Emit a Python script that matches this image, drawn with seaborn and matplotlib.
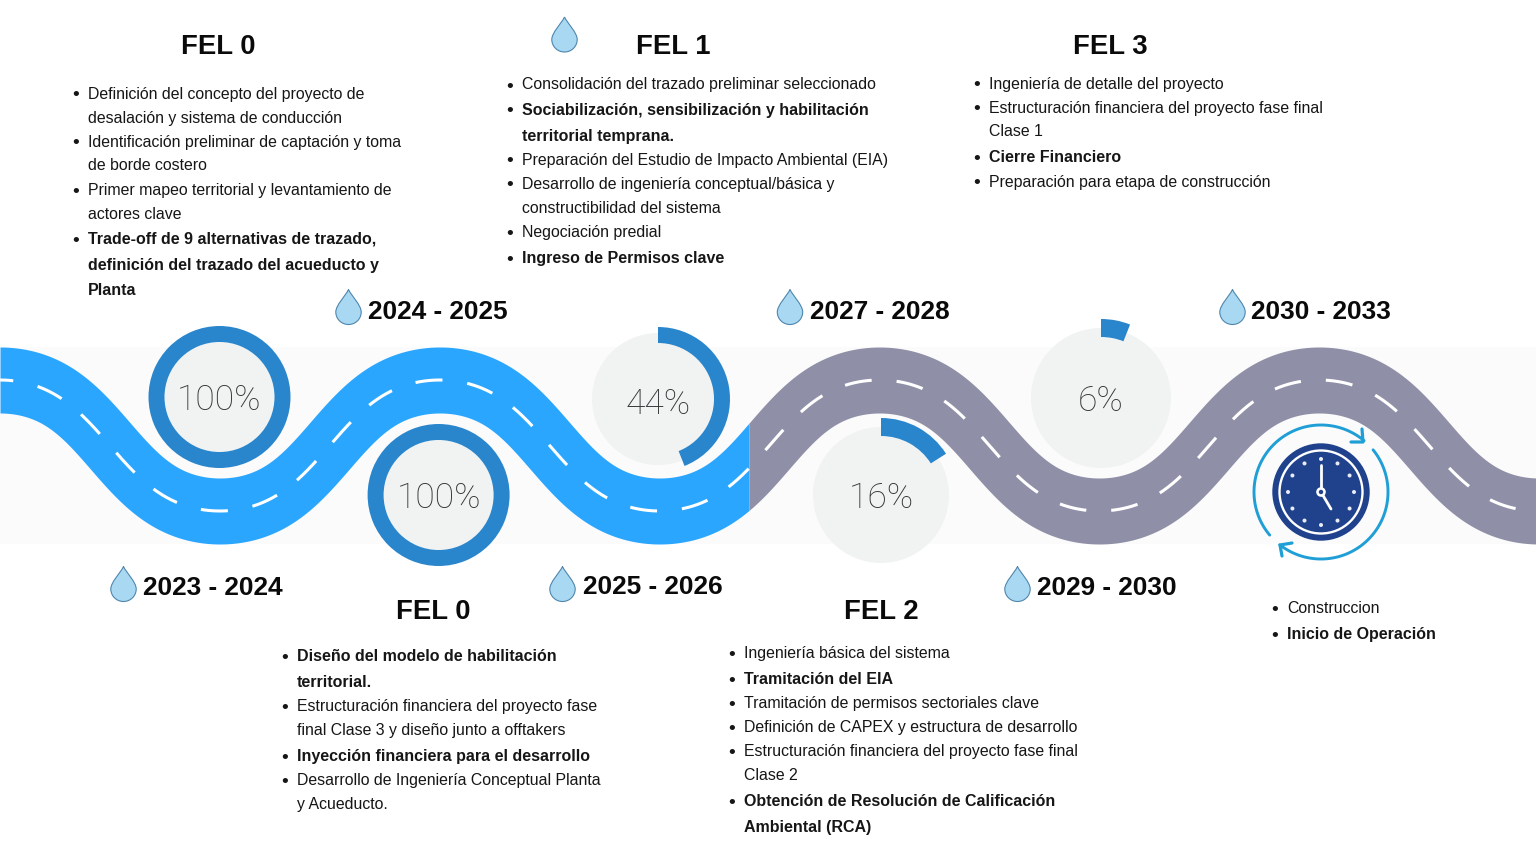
import numpy as np
import pandas as pd
import matplotlib
matplotlib.use("Agg")
import matplotlib.pyplot as plt
from matplotlib.patches import Circle, Wedge, PathPatch, Rectangle
from matplotlib.path import Path
import seaborn as sns

sns.set_theme(style="white")
plt.rcParams["font.family"] = ["Liberation Sans", "DejaVu Sans"]
plt.rcParams["lines.scale_dashes"] = False

# ---- data ----
progress_labels = ["100%", "100%", "44%", "16%", "6%"]
progress_values = [100, 100, 44, 16, 6]
year_labels = ["2023 - 2024", "2024 - 2025", "2025 - 2026", "2027 - 2028", "2029 - 2030", "2030 - 2033"]
phase_titles = ["FEL 0", "FEL 1", "FEL 3", "FEL 0", "FEL 2"]

fel0_top = ["Definición del concepto del proyecto de", "desalación y sistema de conducción",
            "Identificación preliminar de captación y toma", "de borde costero",
            "Primer mapeo territorial y levantamiento de", "actores clave",
            "Trade-off de 9 alternativas de trazado,", "definición del trazado del acueducto y", "Planta"]
fel1_top = ["Consolidación del trazado preliminar seleccionado",
            "Sociabilización, sensibilización y habilitación", "territorial temprana.",
            "Preparación del Estudio de Impacto Ambiental (EIA)",
            "Desarrollo de ingeniería conceptual/básica y", "constructibilidad del sistema",
            "Negociación predial", "Ingreso de Permisos clave"]
fel3_top = ["Ingeniería de detalle del proyecto", "Estructuración financiera del proyecto fase final",
            "Clase 1", "Cierre Financiero", "Preparación para etapa de construcción"]
fel0_bot = ["Diseño del modelo de habilitación", "territorial.",
            "Estructuración financiera del proyecto fase", "final Clase 3 y diseño junto a offtakers",
            "Inyección financiera para el desarrollo",
            "Desarrollo de Ingeniería Conceptual Planta", "y Acueducto."]
fel2_bot = ["Ingeniería básica del sistema", "Tramitación del EIA",
            "Tramitación de permisos sectoriales clave", "Definición de CAPEX y estructura de desarrollo",
            "Estructuración financiera del proyecto fase final", "Clase 2",
            "Obtención de Resolución de Calificación", "Ambiental (RCA)"]
build_bot = ["Construccion", "Inicio de Operación"]

# road crests
road_crest_x = [0, 439.7, 879.4, 1319.1]
road_center_top = 380.0
road_center_bottom = 511.0

# ---- layout ----
W, H = 1536, 863
fig = plt.figure(figsize=(W / 100, H / 100), dpi=100, facecolor="white")
ax = fig.add_axes([0, 0, 1, 1])
ax.set_xlim(0, W)
ax.set_ylim(H, 0)
ax.axis("off")

BLUE, GREY, RING, DISK = "#2ba6ff", "#8f90a8", "#2a86cc", "#f1f3f3"

ax.add_patch(Rectangle((0, 347), W, 197, fc="#fbfbfb", ec="none", zorder=0))

# road: steep flanks, rounded crests
period = road_crest_x[1] - road_crest_x[0]
amp = (road_center_bottom - road_center_top) / 2
mid = (road_center_bottom + road_center_top) / 2
t = np.linspace(-200, W + 200, 6000)
k = 2 * np.pi / period
sharp = 0.85
cy = mid - amp * np.tanh(sharp * np.cos(k * t)) / np.tanh(sharp)
dy = np.gradient(cy, t)
s = np.sqrt(1 + dy ** 2)
half = 33 - 5 * (1 - 1 / s ** 2)
ux, uy = t + half * dy / s, cy - half / s
lx, ly = t - half * dy / s, cy + half / s
xs = np.unique(np.append(np.linspace(0, W, 1537), 749.0))
upper = np.interp(xs, ux, uy)
lower = np.interp(xs, lx, ly)
m = xs <= 749
g = xs >= 749
ax.fill_between(xs[m], upper[m], lower[m], color=BLUE, lw=0, zorder=1)
ax.fill_between(xs[g], upper[g], lower[g], color=GREY, lw=0, zorder=1)

center = pd.DataFrame({"x": t, "y": cy})
center = center[(center.x >= 0) & (center.x <= W)]
sns.lineplot(data=center, x="x", y="y", ax=ax, color="white", lw=2.2, estimator=None, sort=False,
             linestyle=(10, (19.5, 18)), zorder=2, legend=False)
ax.set_xlim(0, W)
ax.set_ylim(H, 0)
ax.axis("off")

# progress dials
dial_x = [219.5, 438.6, 658, 881, 1101]
dial_y = [397, 495, 399, 495, 398]
dial_outer = [71, 71, 72, 77, 79]
dial_inner = [55, 55, 56, 59, 61]
disk_r = [55, 55, 66, 68, 70]
text_dy = [3, 3, 5, 3, 3]
for lab, v, x, y, ro, ri, dr, d in zip(progress_labels, progress_values, dial_x, dial_y, dial_outer, dial_inner, disk_r, text_dy):
    ax.add_patch(Circle((x, y), dr, fc=DISK, ec="none", zorder=3))
    ax.add_patch(Wedge((x, y), ro, -90, -90 + 3.6 * v, width=ro - ri, fc=RING, ec="none", zorder=4))
    ax.text(x, y + d, lab, ha="center", va="center", fontsize=25.5, color="#333536",
            family=["Roboto", "DejaVu Sans"], fontweight="light", zorder=5)

# droplets
drop_v = [(0, -17.5), (3, -11), (12.7, -2), (12.7, 5), (12.7, 12), (7, 17.5), (0, 17.5),
          (-7, 17.5), (-12.7, 12), (-12.7, 5), (-12.7, -2), (-3, -11), (0, -17.5)]
drop_c = [Path.MOVETO] + [Path.CURVE4] * 12
drop_x = [564.5, 348.5, 790, 1232.5, 123.5, 562.5, 1017.5]
drop_y = [34.5, 307, 307, 307, 584, 584, 584]
for x, y in zip(drop_x, drop_y):
    verts = [(x + a, y + b) for a, b in drop_v]
    ax.add_patch(PathPatch(Path(verts, drop_c), fc="#a9d9f2", ec="#4f86ad", lw=0.8, zorder=5))

# clock
ck, cl = (1321, 492), "#20418c"
ax.add_patch(Circle(ck, 48.7, fc=cl, ec="none", zorder=4))
ax.add_patch(Circle(ck, 41.5, fc=cl, ec="white", lw=1.7, zorder=5))
for h in range(12):
    a = np.radians(h * 30)
    ax.add_patch(Circle((ck[0] + 33 * np.sin(a), ck[1] - 33 * np.cos(a)), 2.0, fc="#e8edf5", ec="none", zorder=6))
ax.plot([ck[0], ck[0]], [ck[1], ck[1] - 27], color="white", lw=2.0, zorder=6, solid_capstyle="round")
ax.plot([ck[0], ck[0] + 10], [ck[1], ck[1] + 17], color="white", lw=2.0, zorder=6, solid_capstyle="round")
ax.add_patch(Circle(ck, 4.8, fc="white", ec="none", zorder=7))
ax.add_patch(Circle(ck, 2.2, fc=cl, ec="none", zorder=8))
ARC = "#1f9fd6"
for a0, a1 in [(140, 310), (-39, 128)]:
    th = np.radians(np.linspace(a0, a1, 120))
    ax.plot(ck[0] + 67 * np.cos(th), ck[1] + 67 * np.sin(th), color=ARC, lw=2.1, zorder=4, solid_capstyle="round")
for tip, e1, e2 in [((1363, 442), (1362, 429), (1351, 442)), ((1280, 545), (1292, 543), (1282, 556))]:
    ax.plot([e1[0], tip[0], e2[0]], [e1[1], tip[1], e2[1]], color=ARC, lw=2.3, zorder=4)

# titles and years
title_x = [218.5, 673, 1110, 433, 881]
title_y = [46.5, 46.5, 46.5, 611.5, 611.5]
for txt, x, y in zip(phase_titles, title_x, title_y):
    ax.text(x, y, txt, ha="center", va="center", fontsize=19.8, fontweight="bold", color="#0a0a0a", zorder=6)
year_x = [143, 368, 583, 810, 1037, 1251]
year_y = [588, 312, 587, 312, 588, 312]
for txt, x, y in zip(year_labels, year_x, year_y):
    ax.text(x, y, txt, ha="left", va="center", fontsize=18.9, fontweight="bold", color="#0a0a0a", zorder=6)

# bullet blocks: (lines, text x, y of each line, bold lines, lines carrying a bullet)
blocks = [
    (fel0_top, 88, [94, 118, 142, 166, 190, 214, 239, 265, 290], {6, 7, 8}, {0, 2, 4, 6}),
    (fel1_top, 522, [85, 110, 136, 160, 184, 208, 232, 258], {1, 2, 7}, {0, 1, 3, 4, 6, 7}),
    (fel3_top, 989, [84, 108, 132, 157, 182], {3}, {0, 1, 3, 4}),
    (fel0_bot, 297, [656, 682, 706, 730, 756, 780, 804], {0, 1, 4}, {0, 2, 4, 5}),
    (fel2_bot, 744, [653, 679, 703, 727, 751, 775, 801, 827], {1, 6, 7}, {0, 1, 2, 3, 4, 6}),
    (build_bot, 1287, [608, 634], {1}, {0, 1}),
]
for lines, x, ys, bold, bullets in blocks:
    for i, (ln, y) in enumerate(zip(lines, ys)):
        isb = i in bold
        ax.text(x, y, ln, ha="left", va="center", fontsize=11.55 if isb else 11.4, color="#161616",
                fontweight="bold" if isb else "normal", zorder=6)
        if i in bullets:
            ax.text(x - 12, y + 2, "•", ha="center", va="center", fontsize=14, color="#161616", zorder=6)

fig.savefig("out.png", dpi=100, facecolor="white")
